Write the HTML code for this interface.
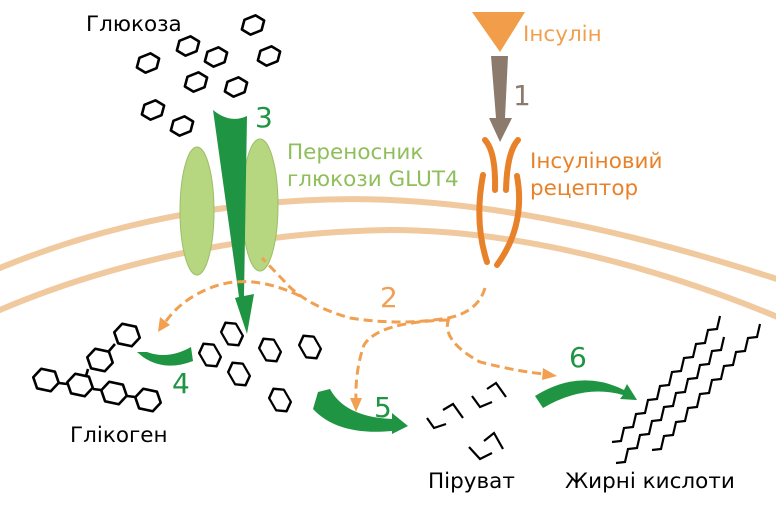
<!DOCTYPE html>
<html><head><meta charset="utf-8"><style>
html,body{margin:0;padding:0;background:#fff;}
svg{display:block;font-family:"DejaVu Sans","Liberation Sans",sans-serif;}
</style></head><body>
<svg width="776" height="512" viewBox="0 0 776 512" xmlns="http://www.w3.org/2000/svg">
<defs>
<path id="hs" d="M-12,0 L-6,-8 L6,-8 L12,0 L6,8 L-6,8 Z" fill="none" stroke="#000" stroke-width="2.6" stroke-linejoin="round"/>
<path id="hb" d="M-13,0 L-7,-10 L7,-10 L13,0 L7,10 L-7,10 Z" fill="none" stroke="#000" stroke-width="2.6" stroke-linejoin="round"/>
<polyline id="zz" fill="none" stroke="#000" stroke-width="2.2" points="612,442 621,441 624,428 633,427 636,414 645,413 648,400 657,399 660,386 669,385 672,372 681,371 684,358 693,357 696,344 705,343 708,330 717,329 720,316"/>
</defs>
<path d="M-5,270 C150,205 300,196 390,200 C520,206 650,238 780,280" fill="none" stroke="#f0c99f" stroke-width="6"/>
<path d="M-5,312 C120,258 260,232 390,230 C520,230 660,268 780,318" fill="none" stroke="#f0c99f" stroke-width="6"/>
<g>
<use href="#hs" transform="translate(253,25) rotate(-22)"/>
<use href="#hs" transform="translate(188,46) rotate(-22)"/>
<use href="#hs" transform="translate(148,63) rotate(-22)"/>
<use href="#hs" transform="translate(216,57) rotate(-22)"/>
<use href="#hs" transform="translate(269,56) rotate(-22)"/>
<use href="#hs" transform="translate(196,82) rotate(-22)"/>
<use href="#hs" transform="translate(236,87) rotate(-22)"/>
<use href="#hs" transform="translate(153,110) rotate(-22)"/>
<use href="#hs" transform="translate(182,126) rotate(-22)"/>
</g>
<g>
<use href="#hb" transform="translate(232,334) rotate(60) scale(1,0.85)"/>
<use href="#hb" transform="translate(210,355) rotate(60) scale(1,0.85)"/>
<use href="#hb" transform="translate(239,374) rotate(60) scale(1,0.85)"/>
<use href="#hb" transform="translate(270,350) rotate(60) scale(1,0.85)"/>
<use href="#hb" transform="translate(310,347) rotate(60) scale(1,0.85)"/>
<use href="#hb" transform="translate(280,400) rotate(60) scale(1,0.85)"/>
</g>
<g stroke="#000" stroke-width="2.6" fill="none">
<use href="#hb" transform="translate(127,335) rotate(12)"/>
<use href="#hb" transform="translate(100,360) rotate(12)"/>
<use href="#hb" transform="translate(46,380) rotate(12)"/>
<use href="#hb" transform="translate(80,385) rotate(12)"/>
<use href="#hb" transform="translate(114,393) rotate(12)"/>
<use href="#hb" transform="translate(148,400) rotate(12)"/>
<line x1="115" y1="344" x2="109" y2="351"/>
<line x1="88" y1="369" x2="86" y2="376"/>
<line x1="59" y1="383" x2="67" y2="384"/>
<line x1="93" y1="389" x2="101" y2="390"/>
<line x1="127" y1="396" x2="135" y2="397"/>
</g>
<ellipse cx="197" cy="211" rx="17" ry="64" fill="#b6d680" stroke="#9cbf66" stroke-width="1"/>
<ellipse cx="260" cy="205" rx="18" ry="66" fill="#b6d680" stroke="#9cbf66" stroke-width="1"/>
<path d="M213,110 Q230,124 247,116 L244,296 L254,294 L247,334 L235,298 L239,297 Z" fill="#1f9442"/>
<text x="255" y="127" font-size="28" fill="#1f9442">3</text>
<text x="287" y="159" font-size="21.5" fill="#8fbf5a">Переносник</text>
<text x="287" y="186" font-size="21.5" fill="#8fbf5a">глюкози GLUT4</text>
<path d="M472,12 L525,12 L500,52 Z" fill="#f29d49"/>
<text x="523" y="41" font-size="21.5" fill="#f0a050">Інсулін</text>
<path d="M491,56 L508,56 L505,118 L512,118 L500,142 L489,118 L496,118 Z" fill="#8c7b6d"/>
<text x="513" y="105" font-size="28" fill="#8c7b6d">1</text>
<g fill="none" stroke="#e8822a" stroke-width="6" stroke-linecap="round">
<path d="M485,140 Q496,152 495,190"/>
<path d="M518,140 Q507,152 506,190"/>
<path d="M483,175 Q474,222 487,262"/>
<path d="M517,176 Q526,225 497,265"/>
</g>
<text x="530" y="168" font-size="21.5" fill="#e8822a">Інсуліновий</text>
<text x="530" y="195" font-size="21.5" fill="#e8822a">рецептор</text>
<g fill="none" stroke="#f0a050" stroke-width="3" stroke-dasharray="9,5">
<path d="M485,288 Q478,312 448,318 Q400,326 350,318 Q305,305 285,282 L262,258"/>
<path d="M300,296 Q250,272 210,288 Q180,300 164,324"/>
<path d="M448,320 Q378,322 364,345 Q355,370 356,402"/>
<path d="M449,318 Q440,340 480,362 Q520,372 545,374"/>
</g>
<g fill="#f0a050">
<path d="M158,332 L160,317 L170,325 Z"/>
<path d="M356,412 L350,398 L362,398 Z"/>
<path d="M557,376 L543,368 L542,380 Z"/>
</g>
<text x="380" y="307" font-size="28" fill="#f0a050">2</text>
<path d="M191,347 L193,361 Q165,372 143,357 L137,352 L147,352 Q168,360 191,347 Z" fill="#1f9442"/>
<text x="172" y="393" font-size="28" fill="#1f9442">4</text>
<path d="M318,392 L330,389 Q345,417 392,419 L392,413 L408,426 L392,434 L392,431 Q338,436 313,409 Z" fill="#1f9442"/>
<text x="374" y="417" font-size="28" fill="#1f9442">5</text>
<path d="M535,396 Q580,368 624,390 L627,384 L637,400 L620,399 L623,395 Q584,384 543,408 Z" fill="#1f9442"/>
<text x="569" y="367" font-size="28" fill="#1f9442">6</text>
<g fill="none" stroke="#000" stroke-width="2.2">
<polyline points="427,418 434,428 446,424"/>
<polyline points="443,410 453,404 463,418"/>
<polyline points="472,396 480,407 492,402"/>
<polyline points="487,389 496,383 506,397"/>
<polyline points="469,447 480,459 492,453"/>
<polyline points="484,441 494,433 503,449"/>
</g>
<use href="#zz"/>
<use href="#zz" transform="translate(4,21)"/>
<use href="#zz" transform="translate(40,8)"/>
<text x="86" y="31" font-size="21.5" fill="#000">Глюкоза</text>
<text x="70" y="442" font-size="21.5" fill="#000">Глікоген</text>
<text x="428" y="488" font-size="21.5" fill="#000">Піруват</text>
<text x="565" y="488" font-size="21.5" fill="#000">Жирні кислоти</text>
</svg>
</body></html>
